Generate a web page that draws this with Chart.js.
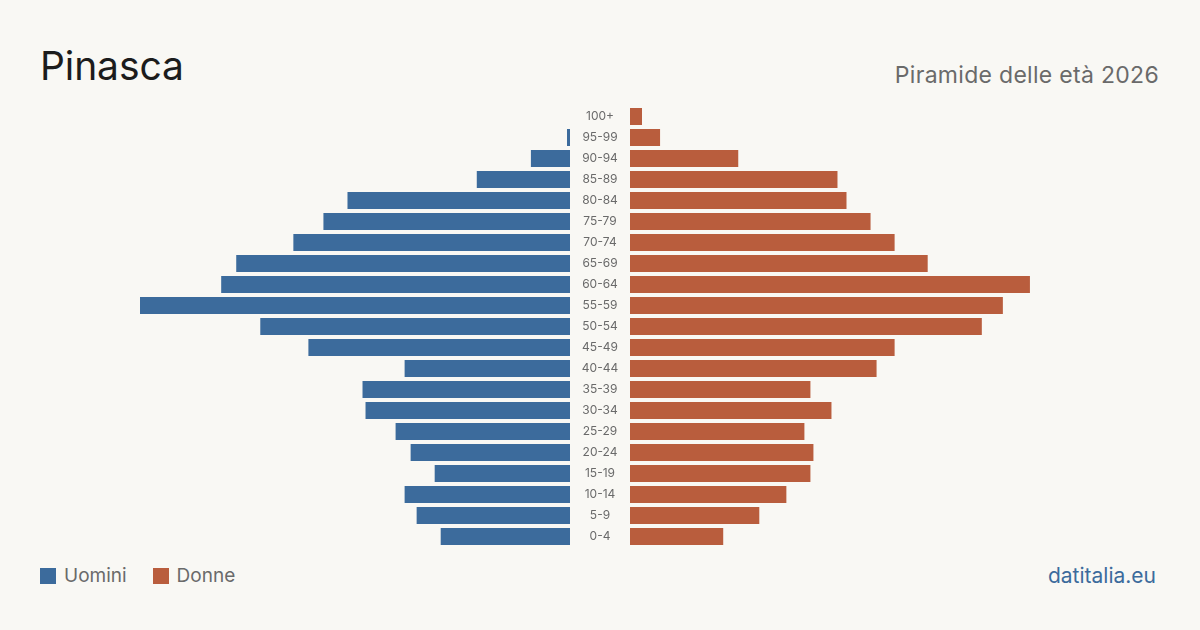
<!DOCTYPE html>
<html>
<head>
<meta charset="utf-8">
<script src="https://cdn.jsdelivr.net/npm/chart.js@4/dist/chart.umd.min.js"></script>
<style>
  html, body { margin: 0; padding: 0; }
  body {
    width: 1200px; height: 630px; position: relative; overflow: hidden;
    background: #f9f8f4; font-family: Inter, "Noto Sans", sans-serif;
  }
  .title { position: absolute; left: 40px; top: 42px; font-size: 39px; color: #1c1c1c; letter-spacing: -0.1px; }
  .subtitle { position: absolute; right: 41px; top: 61px; font-size: 23px; color: #6a6a6a; letter-spacing: 0.3px; }
  .legend { position: absolute; left: 40px; top: 564px; font-size: 19px; color: #6a6a6a; display: flex; align-items: center; }
  .legend span.box { width: 16px; height: 16px; display: inline-block; margin-right: 8px; }
  .legend span.item { display: flex; align-items: center; margin-right: 26px; }
  .source { position: absolute; right: 44px; top: 563px; font-size: 21px; color: #3c6b9c; }
  #left { position: absolute; left: 140px; top: 106px; }
  #right { position: absolute; left: 570px; top: 106px; }
</style>
</head>
<body>
<div class="title">Pinasca</div>
<div class="subtitle">Piramide delle età 2026</div>
<div class="legend">
  <span class="item"><span class="box" style="background:#3c6b9c"></span>Uomini</span>
  <span class="item"><span class="box" style="background:#b95d3d"></span>Donne</span>
</div>
<div class="source">datitalia.eu</div>
<canvas id="left" width="430" height="441"></canvas>
<canvas id="right" width="490" height="441"></canvas>
<script>
const ageGroups = ['100+', '95-99', '90-94', '85-89', '80-84', '75-79', '70-74', '65-69', '60-64', '55-59',
  '50-54', '45-49', '40-44', '35-39', '30-34', '25-29', '20-24', '15-19', '10-14', '5-9', '0-4'];
const uomini = [0, 1, 13, 31, 74, 82, 92, 111, 116, 143, 103, 87, 55, 69, 68, 58, 53, 45, 55, 51, 43];
const donne = [4, 10, 36, 69, 72, 80, 88, 99, 133, 124, 117, 88, 82, 60, 67, 58, 61, 60, 52, 43, 31];

const BLUE = '#3c6b9c';
const RED = '#b95d3d';
const LABEL_GAP = 60;
const maxVal = Math.max(...uomini, ...donne);

// age labels drawn in the gap between the two halves, centred on the y scale rows
const ageLabels = {
  id: 'ageLabels',
  afterDraw(chart) {
    const { ctx, scales: { y }, chartArea } = chart;
    ctx.save();
    ctx.fillStyle = '#6a6a6a';
    ctx.font = '12px Inter, "Noto Sans", sans-serif';
    ctx.textAlign = 'center';
    ctx.textBaseline = 'middle';
    ageGroups.forEach((lab, i) => {
      ctx.fillText(lab, chartArea.left - LABEL_GAP / 2, y.getPixelForValue(i));
    });
    ctx.restore();
  }
};

function barOptions(reverse, padLeft) {
  return {
    indexAxis: 'y',
    responsive: false,
    animation: false,
    layout: { padding: { left: padLeft, right: 0, top: 0, bottom: 0 } },
    plugins: { legend: { display: false }, tooltip: { enabled: false } },
    scales: {
      x: { display: false, min: 0, max: maxVal, reverse: reverse },
      y: { display: false }
    }
  };
}

new Chart(document.getElementById('left'), {
  type: 'bar',
  data: {
    labels: ageGroups,
    datasets: [{ label: 'Uomini', data: uomini, backgroundColor: BLUE, borderWidth: 0,
      categoryPercentage: 1, barPercentage: 0.81 }]
  },
  options: barOptions(true, 0)
});

new Chart(document.getElementById('right'), {
  type: 'bar',
  data: {
    labels: ageGroups,
    datasets: [{ label: 'Donne', data: donne, backgroundColor: RED, borderWidth: 0,
      categoryPercentage: 1, barPercentage: 0.81 }]
  },
  options: barOptions(false, LABEL_GAP),
  plugins: [ageLabels]
});
</script>
</body>
</html>
